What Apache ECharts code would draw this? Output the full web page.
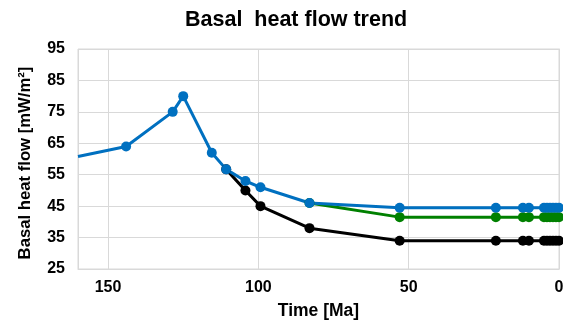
<!DOCTYPE html>
<html><head><meta charset="utf-8">
<script src="https://cdn.jsdelivr.net/npm/echarts@6/dist/echarts.min.js"></script>
<style>html,body{margin:0;padding:0;background:#fff}#c{width:563px;height:322px}</style>
</head><body><div id="c"></div>
<script>
const title = 'Basal  heat flow trend';
const xName = 'Time [Ma]';
const yName = 'Basal heat flow [mW/m²]';
// ages in Ma
const blueAge  = [160, 144, 128.5, 125, 115.5, 110.7, 104.3, 99.3, 83, 53, 21, 12, 10, 5, 4, 3, 2, 1, 0];
const blueVal  = [60.8, 64, 75, 80, 62, 56.7, 53, 51, 46, 44.5, 44.5, 44.5, 44.5, 44.5, 44.5, 44.5, 44.5, 44.5, 44.5];
const greenAge = [83, 53, 21, 12, 10, 5, 4, 3, 2, 1, 0];
const greenVal = [46, 41.5, 41.5, 41.5, 41.5, 41.5, 41.5, 41.5, 41.5, 41.5, 41.5];
const blackAge = [110.7, 104.3, 99.3, 83, 53, 21, 12, 10, 5, 4, 3, 2, 1, 0];
const blackVal = [56.7, 50, 45, 38, 34, 34, 34, 34, 34, 34, 34, 34, 34, 34];

function mk(ages, vals, hideFirst) {
  return ages.map((a, i) => (hideFirst && i === 0) ? {value: [a, vals[i]], symbol: 'none'} : [a, vals[i]]);
}
const font = 'Liberation Sans, Arial, sans-serif';
const chart = echarts.init(document.getElementById('c'));
function ser(name, color, ages, vals, hideFirst) {
  return {name, type: 'line', data: mk(ages, vals, hideFirst), symbol: 'circle', symbolSize: 10,
    lineStyle: {color, width: 3}, itemStyle: {color}, animation: false, clip: true};
}
chart.setOption({
  animation: false,
  title: {text: title, left: 180, top: 4, textStyle: {fontFamily: font, fontSize: 21.5, fontWeight: 'bold', color: '#000'}},
  grid: {left: 78, right: 4, top: 49, bottom: 53, show: true, borderColor: '#d9d9d9', borderWidth: 1,
    outerBoundsMode: 'none', containLabel: false},
  xAxis: {type: 'value', inverse: true, min: 0, max: 160, interval: 50,
    name: xName, nameLocation: 'middle', nameGap: 33,
    nameTextStyle: {fontFamily: font, fontSize: 17.5, fontWeight: 'bold', color: '#000'},
    axisLine: {lineStyle: {color: '#d9d9d9'}}, axisTick: {show: false},
    axisLabel: {showMaxLabel: false, fontFamily: font, fontSize: 16, fontWeight: 'bold', color: '#000', margin: 11},
    splitLine: {lineStyle: {color: '#d9d9d9', width: 1}}},
  yAxis: {type: 'value', min: 25, max: 95, interval: 10,
    name: yName, nameLocation: 'middle', nameGap: 44,
    nameTextStyle: {fontFamily: font, fontSize: 16.7, fontWeight: 'bold', color: '#000', padding: [0, 8, 0, 0]},
    axisLine: {show: true, lineStyle: {color: '#d9d9d9'}}, axisTick: {show: false},
    axisLabel: {fontFamily: font, fontSize: 16, fontWeight: 'bold', color: '#000', margin: 13},
    splitLine: {lineStyle: {color: '#d9d9d9', width: 1}}},
  series: [
    ser('black', '#000000', blackAge, blackVal, false),
    ser('green', '#008000', greenAge, greenVal, false),
    ser('blue', '#0070C0', blueAge, blueVal, true)
  ]
});
</script></body></html>
